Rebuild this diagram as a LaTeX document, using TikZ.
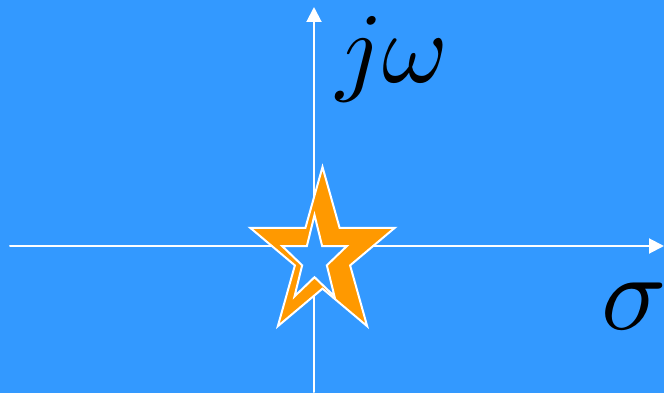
\documentclass[tikz,border=0pt]{standalone}
\usetikzlibrary{arrows.meta}

\definecolor{planeblue}{HTML}{3399FF}
\definecolor{starorange}{HTML}{FF9900}

\begin{document}
\begin{tikzpicture}[x=1pt, y=-1pt, line cap=round, line join=round,
    axis/.style={white, line width=2pt, -{Triangle[width=15pt,length=15pt]}},
    starline/.style={white, line width=2pt, line join=miter},
    lbl/.style={inner sep=0pt, scale=10}]
    % background
    \fill[planeblue] (0,0) rectangle (664,393);
    \useasboundingbox (0,0) rectangle (664,393);

    % axes
    \coordinate (sigmaL) at (10,246);
    \coordinate (sigmaR) at (664,246);
    \coordinate (omegaB) at (314,392);
    \coordinate (omegaT) at (314,7);
    \draw[axis] (sigmaL) -- (sigmaR);
    \draw[axis] (omegaB) -- (omegaT);

    % star (outer filled, inner hole)
    \draw[starline, fill=starorange] plot[samples at={0,...,9}]
        ({322.5+76*cos(90+36*\x)*ifthenelse(mod(\x,2)==0,1,0.382)},
         {255-88*sin(90+36*\x)*ifthenelse(mod(\x,2)==0,1,0.382)}) -- cycle;
    \draw[starline, fill=planeblue] plot[samples at={0,...,9}]
        ({314.5+34*cos(90+36*\x)*ifthenelse(mod(\x,2)==0,1,0.382)},
         {260-45*sin(90+36*\x)*ifthenelse(mod(\x,2)==0,1,0.382)}) -- cycle;

    % labels
    \node[lbl, anchor=base west] (jw) at (334,83) {$j\omega$};
    \node[lbl, scale=1.08, anchor=base west] (sigma) at (599,329) {$\sigma$};
\end{tikzpicture}
\end{document}
